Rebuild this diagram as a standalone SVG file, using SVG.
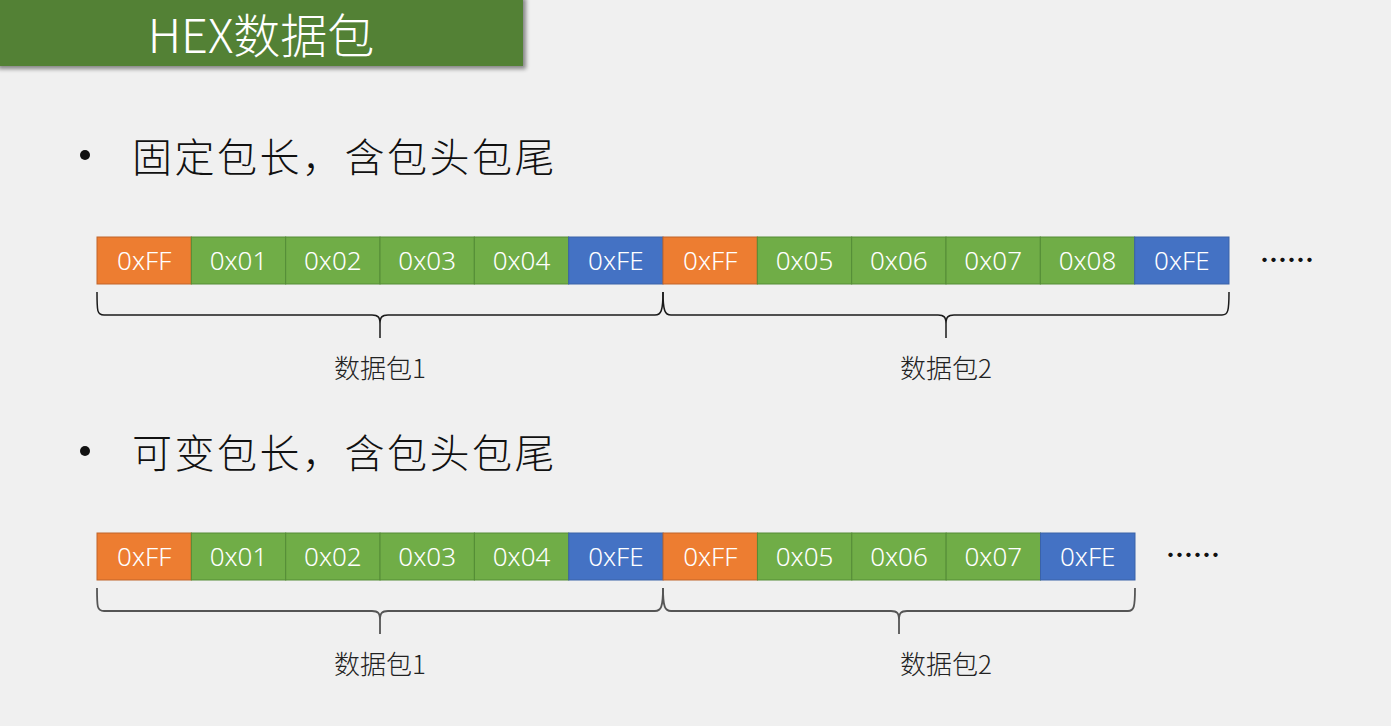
<svg xmlns="http://www.w3.org/2000/svg" width="1391" height="726" viewBox="0 0 1391 726">
<defs>
<style>
.bg{fill:#f0f0f0}
.o{fill:#ed7d31;stroke:#c0652a;stroke-width:1}
.g{fill:#70ad47;stroke:#548c36;stroke-width:1}
.b{fill:#4472c4;stroke:#3a62a8;stroke-width:1}
.ct{font-family:"Noto Sans","Open Sans",sans-serif;font-weight:300;font-size:26px;fill:#ffffff;text-anchor:middle}
.bul{font-family:"Noto Sans CJK SC","Noto Sans",sans-serif;font-weight:300;font-size:40px;letter-spacing:2.5px;fill:#111111}
.lbl{font-family:"Noto Sans CJK SC","Noto Sans",sans-serif;font-weight:300;font-size:26px;fill:#222222;text-anchor:middle}
.dots{font-family:"Noto Sans CJK SC",sans-serif;font-size:27px;fill:#111111;font-weight:bold}
.br1{fill:none;stroke:#1a1a1a;stroke-width:1.5}
.br2{fill:none;stroke:#555555;stroke-width:1.8}
</style>
<filter id="sh" x="-5%" y="-20%" width="115%" height="150%">
<feGaussianBlur in="SourceAlpha" stdDeviation="2"/>
<feOffset dx="3" dy="3"/>
<feComponentTransfer><feFuncA type="linear" slope="0.45"/></feComponentTransfer>
<feMerge><feMergeNode/><feMergeNode in="SourceGraphic"/></feMerge>
</filter>
</defs>
<rect class="bg" x="0" y="0" width="1391" height="726"/>

<g id="title">
<rect x="-5" y="-5" width="528" height="71" fill="#538135" filter="url(#sh)"/>
<text x="261" y="53" text-anchor="middle" font-family="Noto Sans CJK SC,Noto Sans,sans-serif" font-weight="300" font-size="47" fill="#ffffff">HEX数据包</text>
</g>

<g id="bullet1">
<circle cx="85" cy="155" r="5" fill="#111"/>
<text class="bul" x="132" y="172">固定包长，含包头包尾</text>
</g>

<g id="row1">
<rect class="o" x="97" y="237" width="94.33" height="47"/><text class="ct" x="144.2" y="270">0xFF</text>
<rect class="g" x="191.33" y="237" width="94.33" height="47"/><text class="ct" x="238.5" y="270">0x01</text>
<rect class="g" x="285.67" y="237" width="94.33" height="47"/><text class="ct" x="332.8" y="270">0x02</text>
<rect class="g" x="380" y="237" width="94.33" height="47"/><text class="ct" x="427.2" y="270">0x03</text>
<rect class="g" x="474.33" y="237" width="94.33" height="47"/><text class="ct" x="521.5" y="270">0x04</text>
<rect class="b" x="568.67" y="237" width="94.33" height="47"/><text class="ct" x="615.8" y="270">0xFE</text>
<rect class="o" x="663" y="237" width="94.33" height="47"/><text class="ct" x="710.2" y="270">0xFF</text>
<rect class="g" x="757.33" y="237" width="94.33" height="47"/><text class="ct" x="804.5" y="270">0x05</text>
<rect class="g" x="851.67" y="237" width="94.33" height="47"/><text class="ct" x="898.8" y="270">0x06</text>
<rect class="g" x="946" y="237" width="94.33" height="47"/><text class="ct" x="993.2" y="270">0x07</text>
<rect class="g" x="1040.33" y="237" width="94.33" height="47"/><text class="ct" x="1087.5" y="270">0x08</text>
<rect class="b" x="1134.67" y="237" width="94.33" height="47"/><text class="ct" x="1181.8" y="270">0xFE</text>
<text class="dots" x="1260" y="270">……</text>
</g>

<g id="bullet2">
<circle cx="85" cy="451" r="5" fill="#111"/>
<text class="bul" x="132" y="468">可变包长，含包头包尾</text>
</g>

<g id="row2">
<rect class="o" x="97" y="533" width="94.35" height="47"/><text class="ct" x="144.2" y="566">0xFF</text>
<rect class="g" x="191.35" y="533" width="94.35" height="47"/><text class="ct" x="238.5" y="566">0x01</text>
<rect class="g" x="285.7" y="533" width="94.35" height="47"/><text class="ct" x="332.9" y="566">0x02</text>
<rect class="g" x="380.05" y="533" width="94.35" height="47"/><text class="ct" x="427.2" y="566">0x03</text>
<rect class="g" x="474.4" y="533" width="94.35" height="47"/><text class="ct" x="521.6" y="566">0x04</text>
<rect class="b" x="568.75" y="533" width="94.35" height="47"/><text class="ct" x="615.9" y="566">0xFE</text>
<rect class="o" x="663.1" y="533" width="94.35" height="47"/><text class="ct" x="710.3" y="566">0xFF</text>
<rect class="g" x="757.45" y="533" width="94.35" height="47"/><text class="ct" x="804.6" y="566">0x05</text>
<rect class="g" x="851.8" y="533" width="94.35" height="47"/><text class="ct" x="899" y="566">0x06</text>
<rect class="g" x="946.15" y="533" width="94.35" height="47"/><text class="ct" x="993.3" y="566">0x07</text>
<rect class="b" x="1040.5" y="533" width="94.5" height="47"/><text class="ct" x="1087.7" y="566">0xFE</text>
<text class="dots" x="1166" y="565">……</text>
</g>

<g id="connectors">
<path class="br1" d="M97,292 C97,311 97,315 104,315 L372,315 C378,315 380,317 380,324 L380,338 M380,324 C380,317 382,315 388,315 L655,315 C661,315 663,311 663,292"/>
<path class="br1" d="M663,292 C663,311 665,315 671,315 L938,315 C944,315 946,317 946,324 L946,338 M946,324 C946,317 948,315 954,315 L1222,315 C1228,315 1229,311 1229,292"/>
<path class="br2" d="M97,588 C97,607 97,611 104,611 L372,611 C378,611 380,613 380,620 L380,634 M380,620 C380,613 382,611 388,611 L655,611 C661,611 663,607 663,588"/>
<path class="br2" d="M663,588 C663,607 665,611 671,611 L891,611 C897,611 899,613 899,620 L899,634 M899,620 C899,613 901,611 907,611 L1128,611 C1134,611 1135,607 1135,588"/>
</g>

<g id="labels">
<text class="lbl" x="380" y="378">数据包1</text>
<text class="lbl" x="946" y="378">数据包2</text>
<text class="lbl" x="380" y="674">数据包1</text>
<text class="lbl" x="946" y="674">数据包2</text>
</g>
</svg>
